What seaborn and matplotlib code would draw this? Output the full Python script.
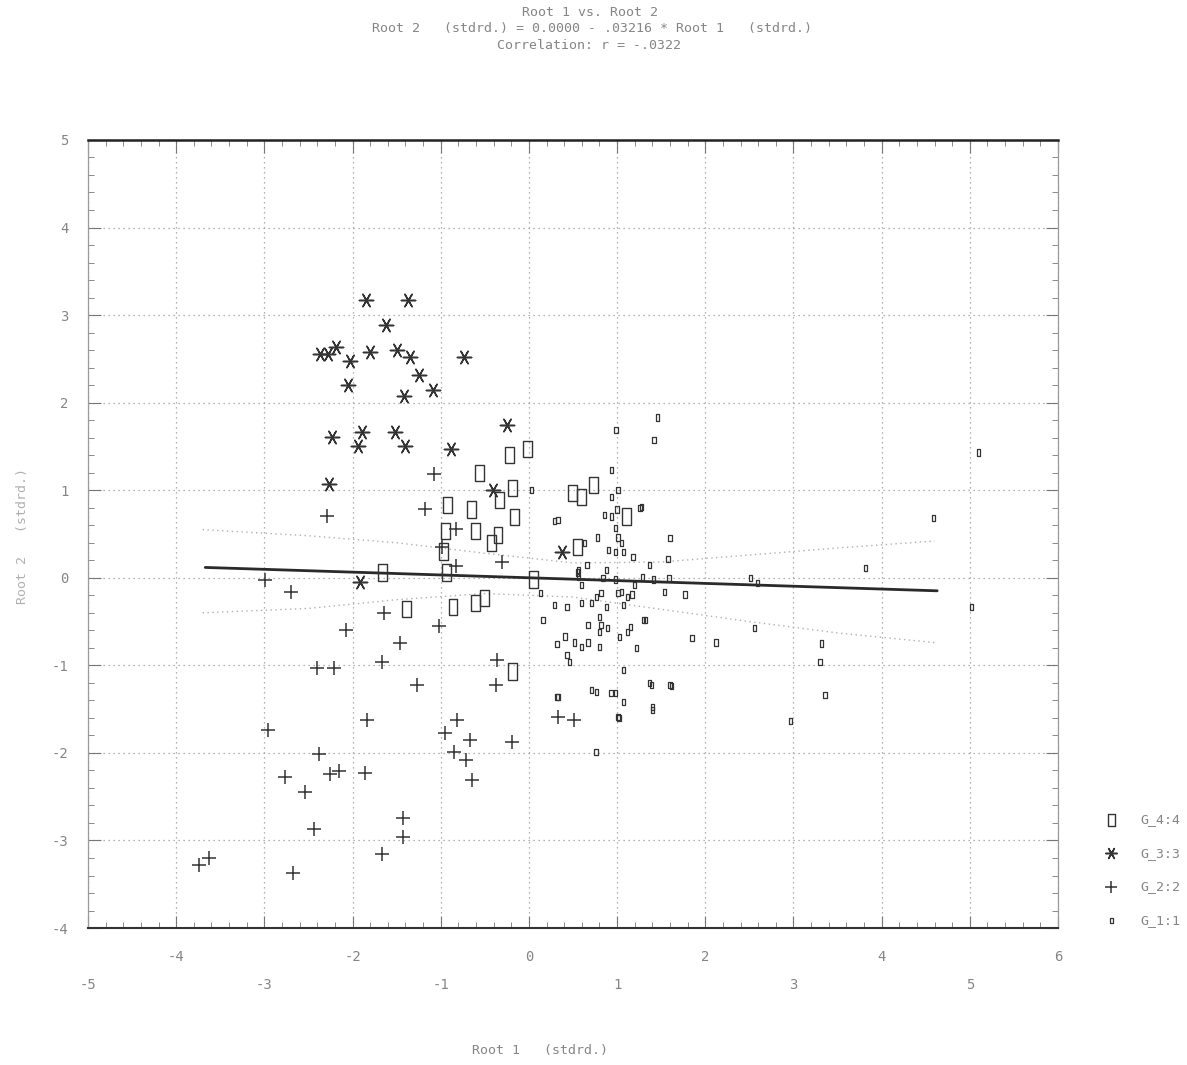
import numpy as np
import pandas as pd
import matplotlib
matplotlib.use("Agg")
import matplotlib.pyplot as plt
import seaborn as sns
from matplotlib.ticker import MultipleLocator

# ---- data (standardized canonical roots) ----
g4_x = [-0.02, -0.22, -0.56, -0.19, -0.33, -0.92, -0.65, -0.16, -0.61, -0.95,
        -0.35, -0.42, 0.55, 0.49, 0.60, 0.73, 1.11, -0.93, -0.97, 0.05,
        -1.66, -1.39, -0.86, -0.61, -0.50, -0.19]
g4_y = [1.47, 1.40, 1.20, 1.03, 0.89, 0.83, 0.78, 0.69, 0.53, 0.53,
        0.49, 0.40, 0.35, 0.97, 0.92, 1.06, 0.70, 0.06, 0.30, -0.02,
        0.06, -0.36, -0.33, -0.29, -0.23, -1.07]

g3_x = [-1.85, -1.37, -1.62, -2.37, -2.28, -2.19, -2.03, -2.05, -1.80, -1.49,
        -1.35, -1.25, -1.09, -1.42, -0.73, -2.23, -1.89, -1.94, -1.52, -1.41,
        -0.88, -2.27, -0.25, -0.41, 0.37, -1.92]
g3_y = [3.17, 3.17, 2.89, 2.55, 2.55, 2.64, 2.47, 2.20, 2.58, 2.60,
        2.52, 2.32, 2.15, 2.08, 2.52, 1.61, 1.67, 1.51, 1.67, 1.51,
        1.47, 1.07, 1.74, 1.00, 0.30, -0.05]

g2_x = [-2.29, -2.70, -2.07, -1.64, -1.66, -1.46, -1.27, -2.40, -2.21, -1.02,
        -2.96, -1.83, -2.38, -2.77, -2.26, -2.15, -2.54, -1.86, -2.44, -1.43,
        -1.43, -1.66, -2.68, -3.63, -3.74, -1.18, -0.83, -1.08, -0.83, -0.30,
        -0.95, -0.82, -0.85, -0.71, -0.67, -0.65, -0.36, -0.37, -0.19, 0.33,
        0.51, -0.98, -2.99]
g2_y = [0.70, -0.16, -0.60, -0.40, -0.96, -0.75, -1.23, -1.03, -1.03, -0.55,
        -1.74, -1.62, -2.01, -2.27, -2.24, -2.21, -2.45, -2.23, -2.87, -2.74,
        -2.96, -3.16, -3.37, -3.20, -3.28, 0.78, 0.56, 1.19, 0.13, 0.18,
        -1.77, -1.62, -1.99, -2.08, -1.85, -2.31, -0.94, -1.23, -1.88, -1.59,
        -1.62, 0.35, -0.03]

g1_x = [1.42, 1.46, 0.99, 0.94, 4.59, 3.82, 2.97, 3.32, 3.30, 3.36,
        2.51, 2.59, 2.12, 1.85, 2.56, 1.77, 1.40, 1.39, 1.60, 0.76,
        1.02, 0.32, 0.77, 0.93, 1.60, 0.29, 0.03, 5.02, 5.10,
        0.94, 1.01, 1.28, 0.86, 0.94, 1.00, 0.33, 0.98, 0.78, 1.01,
        1.05, 0.63, 0.90, 0.98, 1.07, 1.18, 0.66, 0.88, 0.56, 1.37,
        1.58, 1.29, 1.41, 1.59, 0.84, 0.98, 1.20, 1.05, 0.56, 0.60,
        1.54, 1.17, 0.29, 0.43, 0.60, 0.71, 0.77, 0.82, 1.01, 1.07,
        0.88, 1.12, 0.16, 0.67, 0.80, 0.82, 0.80, 0.89, 1.15, 1.12,
        1.03, 1.32, 0.41, 0.32, 0.52, 0.60, 0.67, 0.80, 0.43, 0.46,
        1.22, 1.07, 1.37, 1.62, 0.71, 0.98, 0.33, 1.07, 1.40, 1.01,
        0.13, 1.30, 0.55, 1.26]
g1_y = [1.57, 1.83, 1.69, 1.23, 0.68, 0.11, -1.64, -0.75, -0.96, -1.34,
        0.00, -0.06, -0.74, -0.69, -0.57, -0.19, -1.51, -1.22, -1.22, -1.99,
        -1.60, -1.36, -1.30, -1.32, 0.45, 0.65, 1.00, -0.33, 1.43,
        0.92, 1.00, 0.81, 0.72, 0.70, 0.78, 0.66, 0.57, 0.46, 0.46,
        0.40, 0.40, 0.32, 0.29, 0.29, 0.24, 0.15, 0.09, 0.09, 0.15,
        0.21, 0.01, -0.02, 0.00, 0.00, -0.02, -0.08, -0.16, 0.01, -0.08,
        -0.16, -0.19, -0.31, -0.33, -0.29, -0.29, -0.22, -0.17, -0.17, -0.31,
        -0.33, -0.22, -0.48, -0.54, -0.45, -0.54, -0.62, -0.57, -0.56, -0.62,
        -0.68, -0.48, -0.67, -0.76, -0.74, -0.79, -0.74, -0.79, -0.88, -0.96,
        -0.80, -1.05, -1.20, -1.24, -1.28, -1.32, -1.36, -1.42, -1.48, -1.59,
        -0.17, -0.48, 0.06, 0.80]

# regression: Root 2 = 0.0000 - .03216 * Root 1
intercept = 0.0
slope = -0.03216
line_x = [-3.67, 4.63]

# 95% band (dotted)
band_x = [-3.7, -2.5, -1.5, -0.5, 0.5, 1.5, 2.5, 3.5, 4.6]
band_hi = [0.55, 0.48, 0.40, 0.28, 0.17, 0.18, 0.26, 0.34, 0.42]
band_lo = [-0.40, -0.35, -0.25, -0.18, -0.22, -0.36, -0.50, -0.63, -0.74]

groups = ["G_4:4", "G_3:3", "G_2:2", "G_1:1"]

sns.set_theme(style="white")
plt.rcParams['font.family'] = ['DejaVu Sans Mono', 'DejaVu Sans']
plt.rcParams['axes.unicode_minus'] = False

ink = "#333333"
txt = "#858585"

fig = plt.figure(figsize=(11.87, 10.65), dpi=100)
ax = fig.add_axes([0.0741, 0.1286, 0.8172, 0.74])

rect = [(-0.55, -1), (0.55, -1), (0.55, 1), (-0.55, 1), (-0.55, -1)]
aster = (6, 2, 90)

sns.scatterplot(x=g4_x, y=g4_y, ax=ax, marker=rect, s=135, facecolor="none",
                edgecolor=ink, linewidth=1.0, label=groups[0], zorder=4)
sns.scatterplot(x=g3_x, y=g3_y, ax=ax, marker=aster, s=105, color=ink,
                linewidth=1.1, label=groups[1], zorder=4)
sns.scatterplot(x=g2_x, y=g2_y, ax=ax, marker="+", s=110, color=ink,
                linewidth=1.1, label=groups[2], zorder=4)
sns.scatterplot(x=g1_x, y=g1_y, ax=ax, marker=rect, s=20, facecolor="none",
                edgecolor=ink, linewidth=0.9, label=groups[3], zorder=4)

# regression line and band
lx = np.array(line_x)
ax.plot(lx, intercept + slope * lx, color="#2a2a2a", lw=2.0, zorder=3)
ax.plot(band_x, band_hi, color="#b0b0b0", lw=1.0, ls=(0, (1, 2.5)), zorder=2)
ax.plot(band_x, band_lo, color="#b0b0b0", lw=1.0, ls=(0, (1, 2.5)), zorder=2)

ax.set_xlim(-5, 6)
ax.set_ylim(-4, 5)
ax.set_xticks(range(-5, 7))
ax.set_yticks(range(-4, 6))
ax.xaxis.set_minor_locator(MultipleLocator(0.2))
ax.yaxis.set_minor_locator(MultipleLocator(0.2))
ax.tick_params(which="both", direction="in", top=True, right=True,
               bottom=True, left=True, colors="#777777", labelcolor=txt,
               labelsize=10)
ax.tick_params(which="major", length=9, width=0.8)
ax.tick_params(which="minor", length=4, width=0.6)
ax.tick_params(axis="y", which="major", pad=14)
for val, tick in zip(range(-5, 7), ax.xaxis.get_major_ticks()):
    tick.set_pad(16 if val % 2 == 0 else 36)

ax.grid(True, which="major", linestyle=(0, (1, 3)), color="#999999", lw=0.9)
ax.set_axisbelow(True)

ax.spines["top"].set_color("#222222")
ax.spines["top"].set_linewidth(1.8)
ax.spines["bottom"].set_color("#333333")
ax.spines["bottom"].set_linewidth(1.5)
for side in ["left", "right"]:
    ax.spines[side].set_color("#9a9a9a")
    ax.spines[side].set_linewidth(0.9)
ax.set_xlabel("")
ax.set_ylabel("")

# titles and axis labels
fig.text(0.497, 0.988, "Root 1 vs. Root 2", ha="center", va="center",
         fontsize=9.5, color=txt)
fig.text(0.499, 0.973,
         "Root 2   (stdrd.) = 0.0000 - .03216 * Root 1   (stdrd.)",
         ha="center", va="center", fontsize=9.5, color=txt)
fig.text(0.496, 0.957, "Correlation: r = -.0322", ha="center", va="center",
         fontsize=9.5, color=txt)
fig.text(0.455, 0.014, "Root 1   (stdrd.)", ha="center", va="center",
         fontsize=9.5, color=txt)
fig.text(0.019, 0.497, "Root 2   (stdrd.)", ha="center", va="center",
         rotation=90, fontsize=9.5, color="#b0b0b0")

# legend outside, lower right
handles, labels = ax.get_legend_handles_labels()
if ax.get_legend() is not None:
    ax.get_legend().remove()
fig.legend(handles, labels, loc="center left", bbox_to_anchor=(0.915, 0.183),
           frameon=False, fontsize=9.5, labelcolor=txt, labelspacing=1.55,
           handletextpad=1.2, markerscale=0.8)

fig.savefig("out.png", dpi=100, facecolor="white")
